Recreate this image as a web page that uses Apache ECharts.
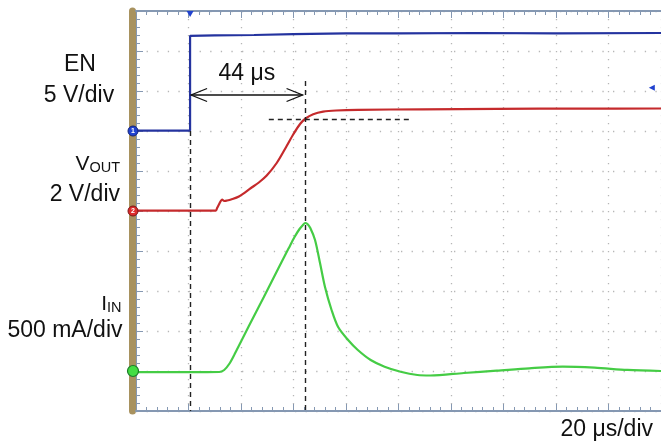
<!DOCTYPE html>
<html>
<head>
<meta charset="utf-8">
<script src="https://cdn.jsdelivr.net/npm/echarts@6/dist/echarts.min.js"></script>
<style>
  html, body { margin: 0; padding: 0; background: #fff; }
  #chart { width: 661px; height: 444px; }
</style>
</head>
<body>
<div id="chart"></div>
<script>
// Horizontal scale: 20 µs per division, 10 divisions
const timePerDiv = 20;
const timeDivs = 10;

// Channel settings: scale per division and ground position (division from bottom)
const enScale = 5;      // V/div
const voutScale = 2;    // V/div
const iinScale = 0.5;   // A/div
const enGround = 7;
const voutGround = 5;
const iinGround = 1;

// EN (enable) trace, µs / V
const enTime  = [0, 20.6, 20.6, 30, 45, 60, 80, 100, 130, 160, 200];
const enVolts = [0.05, 0.05, 11.9, 11.95, 12.0, 12.1, 12.2, 12.2, 12.25, 12.2, 12.25];

// VOUT trace, µs / V
const voutTime  = [0, 15, 30.4, 30.9, 31.7, 32.3, 32.8, 33.6, 34.7, 36.2, 39.2, 43.8, 46.8, 49.8, 53.6, 57.4, 60.0, 62.5, 64.6, 67.5, 71.3, 76.2, 84.5, 109.1, 137.4, 170, 200];
const voutVolts = [0.015, 0.015, 0.015, 0.15, 0.35, 0.5, 0.575, 0.5, 0.525, 0.575, 0.725, 1.15, 1.425, 1.775, 2.4, 3.25, 3.85, 4.35, 4.625, 4.835, 4.965, 5.025, 5.06, 5.085, 5.11, 5.12, 5.125];

// IIN trace, µs / A
const iinTime = [0, 20, 31.7, 33.6, 35.5, 37.4, 43.0, 48.7, 54.3, 58.1, 60.4, 62.3, 63.6, 64.4, 65.3, 66.4, 68.2, 70.1, 72.0, 74.5, 77.0, 80.8, 84.5, 89.4, 94.7, 100.8, 107.2, 112.1, 124.9, 137.4, 149.8, 162.6, 174.7, 187.2, 200];
const iinAmps = [-0.015, -0.015, -0.0125, 0.0125, 0.0875, 0.2, 0.5625, 0.925, 1.2875, 1.53, 1.675, 1.775, 1.825, 1.85, 1.8375, 1.7875, 1.6375, 1.35, 1.05, 0.7625, 0.55, 0.3875, 0.2625, 0.1375, 0.054, -0.009, -0.05, -0.056, -0.025, 0.004, 0.034, 0.054, 0.041, 0.013, 0.0];

// Timing annotation: EN edge to VOUT reaching 90 %
const enEdge = 20.6;      // µs
const riseTime = 44;      // µs
const vout90 = 4.6;       // V
const triggerLevel = 5.4; // V on EN

const fontFam = '"Liberation Sans", Arial, Helvetica, sans-serif';
const enColor = '#24339f';
const enEdgeColor = '#9ea6e2';
const voutColor = '#c52a2c';
const iinColor = '#45cc45';
const frameColor = '#8598b2';
const gridDotColor = '#b6b6b6';
const textColor = '#111';

const zip = (xs, ys) => xs.map((x, i) => [x, ys[i]]);

function channelAxis(scale, ground) {
  return { type: 'value', min: -ground * scale, max: (10 - ground) * scale, show: false };
}

const dashStyle = { color: '#222', width: 1.4, type: [5, 4] };

const chart = echarts.init(document.getElementById('chart'), null, { renderer: 'canvas' });

const frameTicks = {
  axisTick: { inside: true, length: 7, lineStyle: { color: frameColor, width: 1 } },
  minorTick: { show: true, splitNumber: 5, length: 4, lineStyle: { color: frameColor, width: 1 } },
  axisLabel: { show: false }
};

const option = {
  animation: false,
  backgroundColor: '#fff',
  grid: { left: 136, top: 11, width: 530, height: 400, containLabel: false },
  xAxis: [
    Object.assign({
      type: 'value', min: 0, max: timePerDiv * timeDivs, interval: timePerDiv,
      position: 'bottom',
      axisLine: { onZero: false, lineStyle: { color: frameColor, width: 2 } },
      splitLine: { show: true, lineStyle: { color: gridDotColor, width: 1.3, type: [1.3, 6.7] } }
    }, frameTicks),
    Object.assign({
      type: 'value', min: 0, max: timePerDiv * timeDivs, interval: timePerDiv,
      position: 'top',
      axisLine: { onZero: false, lineStyle: { color: frameColor, width: 2 } },
      splitLine: { show: false }
    }, frameTicks)
  ],
  yAxis: [
    Object.assign({
      type: 'value', min: 0, max: 10, interval: 1, position: 'left',
      axisLine: { show: true, onZero: false, lineStyle: { color: frameColor, width: 1 } },
      splitLine: { show: true, lineStyle: { color: gridDotColor, width: 1.3, type: [1.3, 9.3] } }
    }, frameTicks),
    Object.assign(channelAxis(enScale, enGround), {
      show: true, position: 'left', offset: 3.5,
      axisLine: { show: true, onZero: false, lineStyle: { color: '#a8925f', width: 7 } },
      axisTick: { show: false }, axisLabel: { show: false }, splitLine: { show: false }
    }),
    channelAxis(voutScale, voutGround),
    channelAxis(iinScale, iinGround)
  ],
  visualMap: {
    type: 'piecewise', show: false, seriesIndex: 0, dimension: 0,
    pieces: [
      { lt: enEdge - 0.15, color: enColor },
      { gte: enEdge - 0.15, lte: enEdge + 0.15, color: enEdgeColor },
      { gt: enEdge + 0.15, color: enColor }
    ]
  },
  graphic: [
    { type: 'text', x: 80, y: 65, silent: true,
      style: { text: 'EN', font: '23px ' + fontFam, fill: textColor, align: 'center', verticalAlign: 'middle' } },
    { type: 'text', x: 79, y: 96, silent: true,
      style: { text: enScale + ' V/div', font: '23px ' + fontFam, fill: textColor, align: 'center', verticalAlign: 'middle' } },
    { type: 'text', x: 120, y: 164.5, silent: true,
      style: {
        text: '{m|V}{s|OUT}', align: 'right', verticalAlign: 'middle',
        rich: {
          m: { fontSize: 21, fontFamily: fontFam, fill: textColor, lineHeight: 21, verticalAlign: 'bottom' },
          s: { fontSize: 14.5, fontFamily: fontFam, fill: textColor, lineHeight: 16.5, verticalAlign: 'bottom' }
        }
      } },
    { type: 'text', x: 120, y: 195, silent: true,
      style: { text: voutScale + ' V/div', font: '23px ' + fontFam, fill: textColor, align: 'right', verticalAlign: 'middle' } },
    { type: 'text', x: 121.5, y: 304.5, silent: true,
      style: {
        text: '{m|I}{s|IN}', align: 'right', verticalAlign: 'middle',
        rich: {
          m: { fontSize: 21, fontFamily: fontFam, fill: textColor, lineHeight: 21, verticalAlign: 'bottom' },
          s: { fontSize: 14.5, fontFamily: fontFam, fill: textColor, lineHeight: 16.5, verticalAlign: 'bottom' }
        }
      } },
    { type: 'text', x: 122.5, y: 331, silent: true,
      style: { text: (iinScale * 1000) + ' mA/div', font: '23px ' + fontFam, fill: textColor, align: 'right', verticalAlign: 'middle' } },
    { type: 'text', x: 653, y: 430, silent: true,
      style: { text: timePerDiv + ' μs/div', font: '23px ' + fontFam, fill: textColor, align: 'right', verticalAlign: 'middle' } }
  ],
  series: [
    {
      name: 'EN', type: 'line', xAxisIndex: 0, yAxisIndex: 1,
      data: zip(enTime, enVolts), showSymbol: false, smooth: false,
      lineStyle: { width: 2.2, color: enColor }, z: 3,
      markPoint: {
        silent: true, animation: false,
        data: [
          { coord: [0, 0], symbol: 'circle', symbolSize: 10, symbolOffset: [-3, 0],
            itemStyle: { color: '#2142cf', borderColor: '#12237a', borderWidth: 1 },
            label: { show: true, formatter: '1', position: 'inside', color: '#fff', fontSize: 7, fontWeight: 'bold' } },
          { coord: [enEdge, (10 - enGround) * enScale], symbol: 'triangle', symbolRotate: 180,
            symbolSize: [7, 6], symbolOffset: [0, 3], itemStyle: { color: '#2142cf' }, label: { show: false } },
          { coord: [timePerDiv * timeDivs - 3.5, triggerLevel], symbol: 'triangle', symbolRotate: 90,
            symbolSize: [6, 6], itemStyle: { color: '#2142cf' }, label: { show: false } }
        ]
      },
      markLine: {
        silent: true, symbol: 'none', animation: false, label: { show: false },
        lineStyle: dashStyle,
        data: [
          [{ coord: [enEdge, 0] }, { coord: [enEdge, -enGround * enScale] }],
          [{ coord: [enEdge + riseTime, 6.25] }, { coord: [enEdge + riseTime, -enGround * enScale] }]
        ]
      }
    },
    {
      name: 'VOUT', type: 'line', xAxisIndex: 0, yAxisIndex: 2,
      data: zip(voutTime, voutVolts), showSymbol: false, smooth: 0.3,
      lineStyle: { width: 2.2, color: voutColor }, z: 3,
      markPoint: {
        silent: true, animation: false,
        data: [{ coord: [0, 0], symbol: 'circle', symbolSize: 10, symbolOffset: [-3, 0],
          itemStyle: { color: '#dc2b2b', borderColor: '#7d1515', borderWidth: 1 },
          label: { show: true, formatter: '2', position: 'inside', color: '#fff', fontSize: 7, fontWeight: 'bold' } }]
      },
      markLine: {
        silent: true, symbol: 'none', animation: false, label: { show: false },
        lineStyle: dashStyle,
        data: [[{ coord: [50.6, vout90] }, { coord: [104.5, vout90] }]]
      }
    },
    {
      name: 'IIN', type: 'line', xAxisIndex: 0, yAxisIndex: 3,
      data: zip(iinTime, iinAmps), showSymbol: false, smooth: 0.3,
      lineStyle: { width: 2.2, color: iinColor }, z: 3,
      markPoint: {
        silent: true, animation: false,
        data: [{ coord: [0, 0], symbol: 'circle', symbolSize: 11, symbolOffset: [-3, 0],
          itemStyle: { color: '#43dd43', borderColor: '#1d7a2a', borderWidth: 1.2 },
          label: { show: false } }]
      }
    },
    {
      // double-headed arrow marking the EN-to-VOUT delay
      name: 'delay', type: 'custom', xAxisIndex: 0, yAxisIndex: 0,
      silent: true, z: 4,
      data: [[enEdge, enEdge + riseTime, 7.9]],
      encode: { x: [0, 1], y: 2 },
      renderItem: function (params, api) {
        const a = api.coord([api.value(0), api.value(2)]);
        const b = api.coord([api.value(1), api.value(2)]);
        const y = a[1];
        const x1 = a[0] + 1;
        const x2 = b[0] - 3;
        const hw = 16, hh = 6.5;
        const st = { stroke: '#111', lineWidth: 1.3, fill: null };
        return {
          type: 'group',
          children: [
            { type: 'line', shape: { x1: x1, y1: y, x2: x2, y2: y }, style: st },
            { type: 'polyline', shape: { points: [[x1 + hw, y - hh], [x1, y], [x1 + hw, y + hh]] }, style: st },
            { type: 'polyline', shape: { points: [[x2 - hw, y - hh], [x2, y], [x2 - hw, y + hh]] }, style: st },
            { type: 'text', x: (x1 + x2) / 2, y: y - 9.5,
              style: { text: riseTime + ' μs', font: '23px ' + fontFam, fill: textColor, align: 'center', verticalAlign: 'bottom' } }
          ]
        };
      }
    }
  ]
};

chart.setOption(option);
</script>
</body>
</html>
